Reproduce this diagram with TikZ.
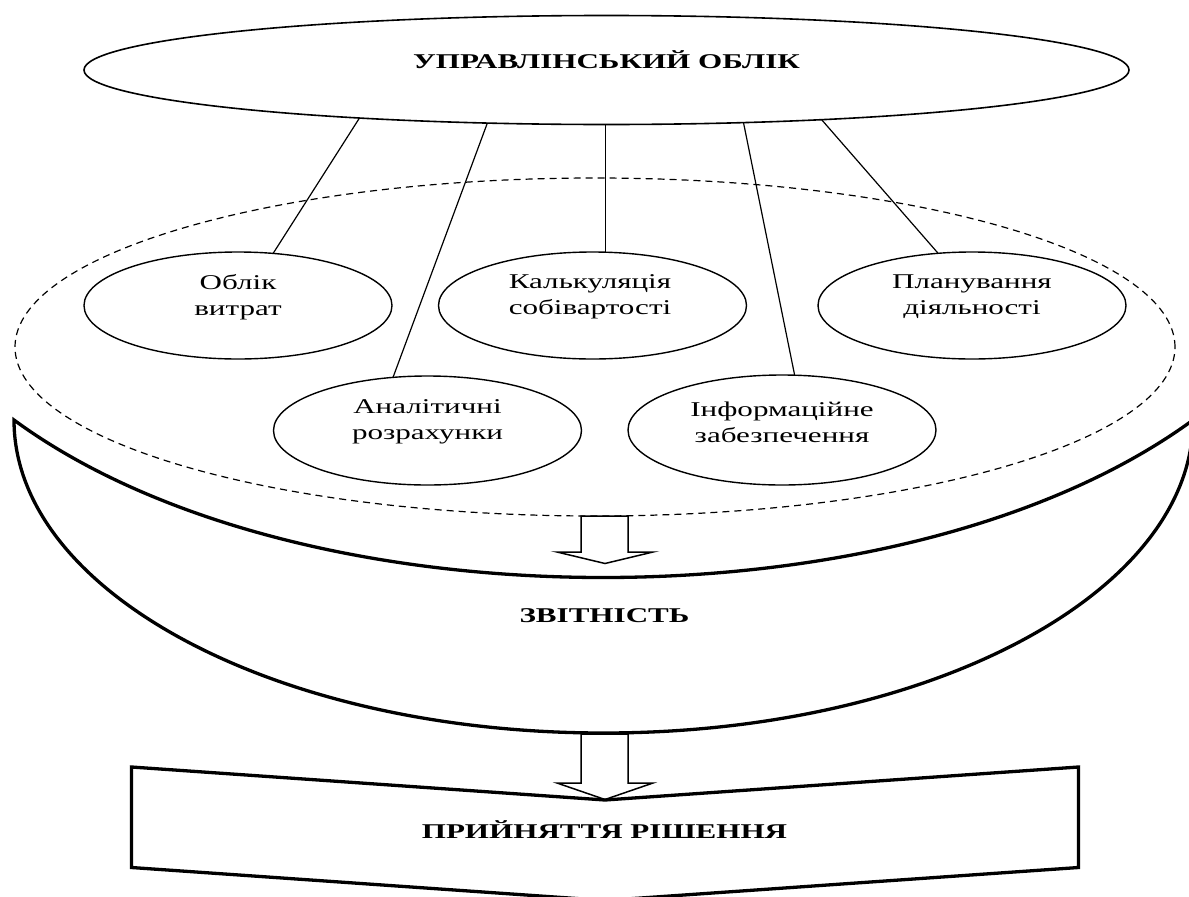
\documentclass[tikz,border=0pt]{standalone}
\usepackage{fontspec}
\setmainfont{Liberation Serif}[FakeStretch=1.48]
\usetikzlibrary{shapes.geometric}
\begin{document}
\begin{tikzpicture}[x=1pt,y=-1pt,
  oval/.style={draw, ellipse, line width=1.4pt, inner sep=0pt, outer sep=0pt, minimum width=308pt, minimum height=107pt},
  lbl/.style={font=\fontsize{21}{26}\selectfont, align=center, inner sep=0pt},
  ttl/.style={font=\fontsize{21}{26}\selectfont\bfseries, inner sep=0pt},
  conn/.style={line width=1.2pt},
  heavy/.style={draw, line width=3.3pt, line join=miter},
  blockarrow/.style={draw, line width=1.5pt, fill=white, line join=miter}
]
\useasboundingbox (0,0) rectangle (1189,897);

% bowl (reporting)
\path[heavy] (14,420) .. controls (300,630) and (906,630) .. (1193,420)
  .. controls (1193,592.9) and (929.1,733) .. (603.5,733)
  .. controls (277.9,733) and (14,592.9) .. cycle;

% dashed ellipse
\node[draw, ellipse, dash pattern=on 7pt off 5pt, line width=1.2pt, inner sep=0pt, outer sep=0pt,
      minimum width=1160pt, minimum height=338pt] (D) at (595,347) {};

% top ellipse
\node[oval, line width=1.6pt, minimum width=1045pt, minimum height=109pt] (T) at (606.5,70) {};
\node[ttl] (tT) at (606.5,60) {УПРАВЛІНСЬКИЙ ОБЛІК};

% small ellipses
\node[oval] (E1) at (238,305.5) {};
\node[oval] (E2) at (592.5,305.5) {};
\node[oval] (E3) at (972,305.5) {};
\node[oval, minimum height=109pt] (E4) at (427.5,430.5) {};
\node[oval, minimum height=110pt] (E5) at (782,430) {};

\node[lbl] (t1) at (238,297) {Облік\\витрат};
\node[lbl] (t2) at (590,297) {Калькуляція\\собівартості};
\node[lbl] (t3) at (972,297) {Планування\\діяльності};
\node[lbl] (t4) at (427.5,422) {Аналітичні\\розрахунки};
\node[lbl] (t5) at (782,422) {Інформаційне\\забезпечення};

% connectors
\draw[conn] (T.191.8) -- (E1.56.7);
\draw[conn] (T.204.05) -- (E4.123.4);
\draw[conn] (E2.76.8 |- T.south) -- (E2.76.8);
\draw[conn] (T.339.25) -- (E5.77.6);
\draw[conn] (T.347.94) -- (E3.123.9);

% arrow 1
\path[blockarrow] (581,516) -- (581,552) -- (557,552) -- (605,563.5) -- (653,552)
  -- (628,552) -- (628,516) -- cycle;

\node[ttl] (tR) at (604.5,616) {ЗВІТНІСТЬ};

% arrow 2
\path[blockarrow] (581,734) -- (581,783) -- (557,783) -- (605,799.5) -- (653,783)
  -- (628,783) -- (628,734) -- cycle;

% decision shape
\path[heavy] (131.5,767) -- (605,800) -- (1078.5,767) -- (1078.5,867.5)
  -- (605,900.5) -- (131.5,867.5) -- cycle;
\node[ttl] (tD) at (604.5,830) {ПРИЙНЯТТЯ РІШЕННЯ};
\end{tikzpicture}
\end{document}
